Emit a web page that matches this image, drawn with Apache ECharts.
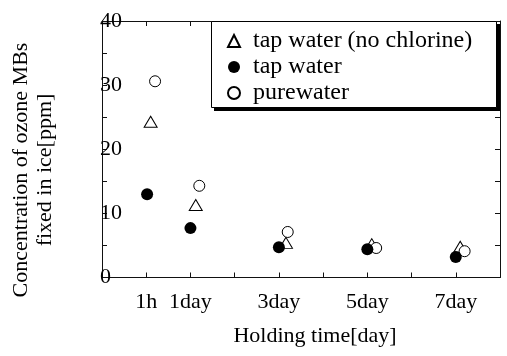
<!DOCTYPE html>
<html><head><meta charset="utf-8">
<script src="https://cdn.jsdelivr.net/npm/echarts@6/dist/echarts.min.js"></script>
<style>html,body{margin:0;padding:0;background:#fff}#c{width:507px;height:356px}</style>
</head><body><div id="c"></div>
<script>
// ---- data ----
const seriesNames = ['tap water (no chlorine)', 'tap water', 'purewater'];
const tickLabels = {1: '1h', 2: '1day', 4: '3day', 6: '5day', 8: '7day'};
// x in axis units (holding-time slot), y in ppm
const xNoChlorine = [1.1, 2.12, 4.16, 6.1, 8.1];
const yNoChlorine = [24.3, 11.3, 5.4, 5.2, 4.8];
const xTap = [1.02, 2.0, 4.0, 6.0, 8.0];
const yTap = [13.0, 7.7, 4.7, 4.4, 3.2];
const xPure = [1.2, 2.2, 4.2, 6.2, 8.2];
const yPure = [30.6, 14.3, 7.1, 4.6, 4.1];
const yTitle = ['Concentration of ozone MBs', 'fixed in ice[ppm]'];
const xTitle = 'Holding time[day]';

const pairs = (xs, ys) => xs.map((x, i) => [x, ys[i]]);
const FONT = 'Liberation Serif';
const lineStyle = {color: '#111', width: 1};

const chart = echarts.init(document.getElementById('c'), null, {renderer: 'canvas'});
const baseX = {
  type: 'value', min: 0, max: 9, interval: 1,
  axisLine: {show: true, onZero: false, lineStyle},
  axisTick: {show: true, inside: true, length: 5, lineStyle},
  splitLine: {show: false}
};
const baseY = {
  type: 'value', min: 0, max: 40, interval: 5,
  axisLine: {show: true, onZero: false, lineStyle},
  axisTick: {show: true, inside: true, length: 5, lineStyle},
  splitLine: {show: false}
};
chart.setOption({
  animation: false,
  backgroundColor: '#fff',
  grid: {left: 102, right: 7, top: 21, bottom: 78.5, containLabel: false},
  xAxis: [
    Object.assign({}, baseX, {position: 'bottom',
      axisLabel: {show: true, margin: 14, color: '#000', fontFamily: FONT, fontSize: 22,
        formatter: v => tickLabels[v] || ''}}),
    Object.assign({}, baseX, {position: 'top', axisLabel: {show: false}})
  ],
  yAxis: [
    Object.assign({}, baseY, {position: 'left',
      axisLabel: {show: true, align: 'left', margin: 2, color: '#000', fontFamily: FONT, fontSize: 22,
        formatter: v => (v % 10 === 0 ? String(v) : '')}}),
    Object.assign({}, baseY, {position: 'right', axisLabel: {show: false}})
  ],
  legend: {
    orient: 'vertical', left: 211, top: 21,
    padding: [8, 0, 5, 16], itemGap: 2, itemWidth: 12, itemHeight: 12,
    selectedMode: false, z: 10,
    data: seriesNames,
    textStyle: {fontFamily: FONT, fontSize: 24, color: '#000', lineHeight: 24, padding: [0, 0, 0, 8]}
  },
  graphic: [
    {type: 'rect', z: 5, shape: {x: 214, y: 24, width: 286, height: 87}, style: {fill: '#000'}},
    {type: 'rect', z: 6, shape: {x: 211.5, y: 21.5, width: 285, height: 86}, style: {fill: '#fff', stroke: '#000', lineWidth: 1}},
    {type: 'text', x: 33, y: 170, rotation: Math.PI / 2,
      style: {text: yTitle.join('\n'), font: '22px "Liberation Serif"', fill: '#000',
        align: 'center', verticalAlign: 'middle', lineHeight: 24}},
    {type: 'text', x: 315, y: 336,
      style: {text: xTitle, font: '22px "Liberation Serif"', fill: '#000',
        align: 'center', verticalAlign: 'middle'}}
  ],
  series: [
    {name: seriesNames[0], type: 'scatter', symbol: 'triangle', symbolSize: [13, 11],
      itemStyle: {color: '#fff', borderColor: '#000', borderWidth: 1, opacity: 1},
      data: pairs(xNoChlorine, yNoChlorine)},
    {name: seriesNames[2], type: 'scatter', symbol: 'circle', symbolSize: 11,
      itemStyle: {color: '#fff', borderColor: '#000', borderWidth: 1, opacity: 1},
      data: pairs(xPure, yPure)},
    {name: seriesNames[1], type: 'scatter', symbol: 'circle', symbolSize: 12,
      itemStyle: {color: '#000', opacity: 1},
      data: pairs(xTap, yTap)}
  ]
});
</script></body></html>
